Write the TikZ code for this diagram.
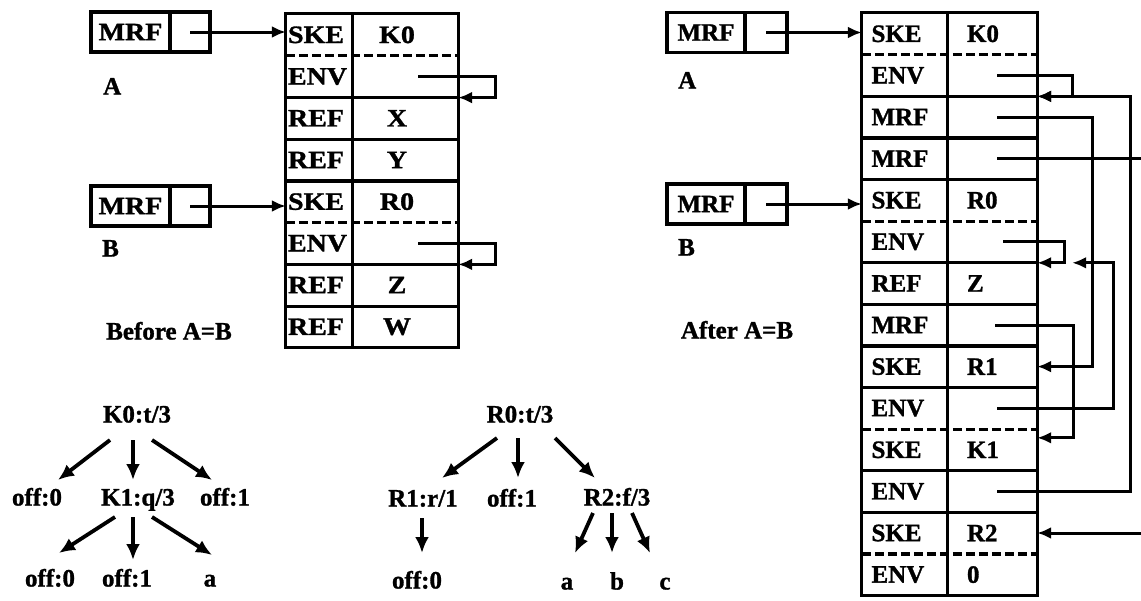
\documentclass[tikz,border=0pt]{standalone}
\usepackage{fontspec}
\setmainfont{Liberation Serif}[BoldFeatures={FakeBold=1.2}]
\newfontfamily\widefont{Liberation Serif}[FakeStretch=1.12,BoldFeatures={FakeBold=1.2}]
\usetikzlibrary{arrows.meta}
\begin{document}
\begin{tikzpicture}[x=1pt,y=-1pt,
  tbl/.style={line width=3.1pt},
  mydash/.style={dash pattern=on 9pt off 4pt},
  lfont/.style={font=\widefont\bfseries\fontsize{25}{30}\selectfont},
  rfont/.style={font=\bfseries\fontsize{25}{30}\selectfont},
  llab/.style={lfont, minimum height=41.7pt, text width=62pt, inner xsep=2pt, inner ysep=0pt, align=left},
  lval/.style={lfont, minimum height=41.7pt, minimum width=106pt, inner sep=0pt, execute at end node={\kern16pt}},
  rlab/.style={rfont, minimum height=41.6pt, text width=66pt, inner xsep=9.5pt, inner ysep=0pt, align=left},
  rval/.style={rfont, minimum height=41.6pt, text width=50pt, inner xsep=20pt, inner ysep=0pt, align=left},
  mrfbox/.style={draw, tbl, minimum height=40pt, inner sep=0pt},
  ptr/.style={line width=3pt, -{Latex[length=14pt,width=12pt]}},
  tarr/.style={line width=3.8pt, -{Latex[length=16pt,width=14pt]}},
  txt/.style={rfont, inner sep=0pt, text height=17pt, text depth=0pt}
]
\useasboundingbox (0,0) rectangle (1141,600);
\clip (0,0) rectangle (1141,600);

% ---------- left table (before) ----------
\foreach \l/\v [count=\i] in {SKE/K0,ENV/,REF/X,REF/Y,SKE/R0,ENV/,REF/Z,REF/W}{
  \node[llab] (Ll\i) at (319,{14+(\i-0.5)*41.7}) {\l};
  \node[lval] (Lv\i) at (405,{14+(\i-0.5)*41.7}) {\v};
}
\draw[tbl] (Ll1.north west) rectangle (Lv8.south east);
\draw[tbl] (Ll1.north east) -- (Ll8.south east);
\foreach \i/\s in {1/mydash,2/solid,3/solid,4/solid,5/mydash,6/solid,7/solid}
  \draw[tbl,\s] (Ll\i.south west) -- (Lv\i.south east);
\draw[ptr] ([xshift=13pt]Lv2.center) -| ([xshift=37pt]Lv2.south east) -- (Lv2.south east);
\draw[ptr] ([xshift=13pt]Lv6.center) -| ([xshift=37pt]Lv6.south east) -- (Lv6.south east);

% left MRF boxes
\node[mrfbox, lfont, minimum width=79pt] (amrf) at (130.5,32) {MRF};
\node[mrfbox, minimum width=40pt] (aptr) at (190,32) {};
\draw[ptr] (aptr.center) -- (aptr.center -| Ll1.west);
\node[mrfbox, lfont, minimum width=79pt] (bmrf) at (130.5,206) {MRF};
\node[mrfbox, minimum width=40pt] (bptr) at (190,206) {};
\draw[ptr] (bptr.center) -- (bptr.center -| Ll5.west);
\node[txt, anchor=west] (la) at (103,86) {A};
\node[txt, anchor=west] (lb) at (102,248) {B};
\node[txt] (before) at (169,331) {Before A=B};

% ---------- right table (after) ----------
\foreach \l/\v [count=\i] in {SKE/K0,ENV/,MRF/,MRF/,SKE/R0,ENV/,REF/Z,MRF/,SKE/R1,ENV/,SKE/K1,ENV/,SKE/R2,ENV/0}{
  \node[rlab] (Rl\i) at (904.5,{13+(\i-0.5)*41.6}) {\l};
  \node[rval] (Rv\i) at (992,{13+(\i-0.5)*41.6}) {\v};
}
\draw[tbl] (Rl1.north west) rectangle (Rv14.south east);
\draw[tbl] (Rl1.north east) -- (Rl14.south east);
\foreach \i/\s in {1/mydash,2/solid,3/solid,4/solid,5/mydash,6/solid,7/solid,8/solid,9/solid,10/mydash,11/solid,12/solid,13/mydash}
  \draw[tbl,\s] (Rl\i.south west) -- (Rv\i.south east);

\draw[ptr] ([xshift=5pt]Rv2.center) -| ([xshift=35pt]Rv2.south east) -- (Rv2.south east);
\draw[ptr] ([xshift=5pt]Rv12.center) -| ([xshift=93pt]Rv2.south east) -- (Rv2.south east);
\draw[ptr] ([xshift=5pt]Rv3.center) -| ([xshift=55pt]Rv9.east) -- (Rv9.east);
\draw[ptr] ([xshift=5pt]Rv4.center) -| ([xshift=120pt]Rv13.east) -- (Rv13.east);
\draw[ptr] ([xshift=11pt]Rv6.center) -| ([xshift=27pt]Rv6.south east) -- (Rv6.south east);
\draw[ptr] ([xshift=5pt]Rv10.center) -| ([xshift=76pt]Rv6.south east) -- ([xshift=35pt]Rv6.south east);
\draw[ptr] ([xshift=3pt]Rv8.center) -| ([xshift=36pt,yshift=12pt]Rv11.east) -- ([yshift=12pt]Rv11.east);

% right MRF boxes
\node[mrfbox, rfont, minimum width=78pt] (cmrf) at (706,32.5) {MRF};
\node[mrfbox, minimum width=42pt] (cptr) at (766,32.5) {};
\draw[ptr] (cptr.center) -- (cptr.center -| Rl1.west);
\node[mrfbox, rfont, minimum width=78pt] (dmrf) at (706,204) {MRF};
\node[mrfbox, minimum width=42pt] (dptr) at (766,204) {};
\draw[ptr] (dptr.center) -- (dptr.center -| Rl5.west);
\node[txt, anchor=west] (ra) at (678,80) {A};
\node[txt, anchor=west] (rb) at (678,247) {B};
\node[txt] (after) at (737,330) {After A=B};

% ---------- left tree ----------
\node[txt] (k0) at (137,414) {K0:t/3};
\node[txt] (o0a) at (37,497) {off:0};
\node[txt] (k1) at (138,497) {K1:q/3};
\node[txt] (o1a) at (225,497) {off:1};
\node[txt] (o0b) at (50,578) {off:0};
\node[txt] (o1b) at (127,578) {off:1};
\node[txt] (a1) at (210,578) {a};
\draw[tarr] ([shift={(-27,26)}]k0.center) -- ([shift={(21,-17)}]o0a.center);
\draw[tarr] ([shift={(-4,26)}]k0.center) -- ([shift={(-5,-17)}]k1.center);
\draw[tarr] ([shift={(15,26)}]k0.center) -- ([shift={(-13,-17)}]o1a.center);
\draw[tarr] ([shift={(-23,20)}]k1.center) -- ([shift={(9,-25)}]o0b.center);
\draw[tarr] ([shift={(-5,20)}]k1.center) -- ([shift={(6,-18)}]o1b.center);
\draw[tarr] ([shift={(14,20)}]k1.center) -- ([shift={(2,-23)}]a1.center);

% ---------- right tree ----------
\node[txt] (r0) at (520,414) {R0:t/3};
\node[txt] (r1) at (423,498) {R1:r/1};
\node[txt] (o1c) at (512,498) {off:1};
\node[txt] (r2) at (617,497) {R2:f/3};
\node[txt] (o0c) at (417,580) {off:0};
\node[txt] (a2) at (567,581) {a};
\node[txt] (b2) at (617,581) {b};
\node[txt] (c2) at (665,581) {c};
\draw[tarr] ([shift={(-23,24)}]r0.center) -- ([shift={(19,-20)}]r1.center);
\draw[tarr] ([shift={(-2,24)}]r0.center) -- ([shift={(6,-20)}]o1c.center);
\draw[tarr] ([shift={(35,24)}]r0.center) -- ([shift={(-22,-19)}]r2.center);
\draw[tarr] ([shift={(-1,20)}]r1.center) -- ([shift={(5,-27)}]o0c.center);
\draw[tarr] ([shift={(-24,16)}]r2.center) -- ([shift={(8,-28)}]a2.center);
\draw[tarr] ([shift={(-5,16)}]r2.center) -- ([shift={(-5,-28)}]b2.center);
\draw[tarr] ([shift={(15,16)}]r2.center) -- ([shift={(-15,-28)}]c2.center);
\end{tikzpicture}
\end{document}
